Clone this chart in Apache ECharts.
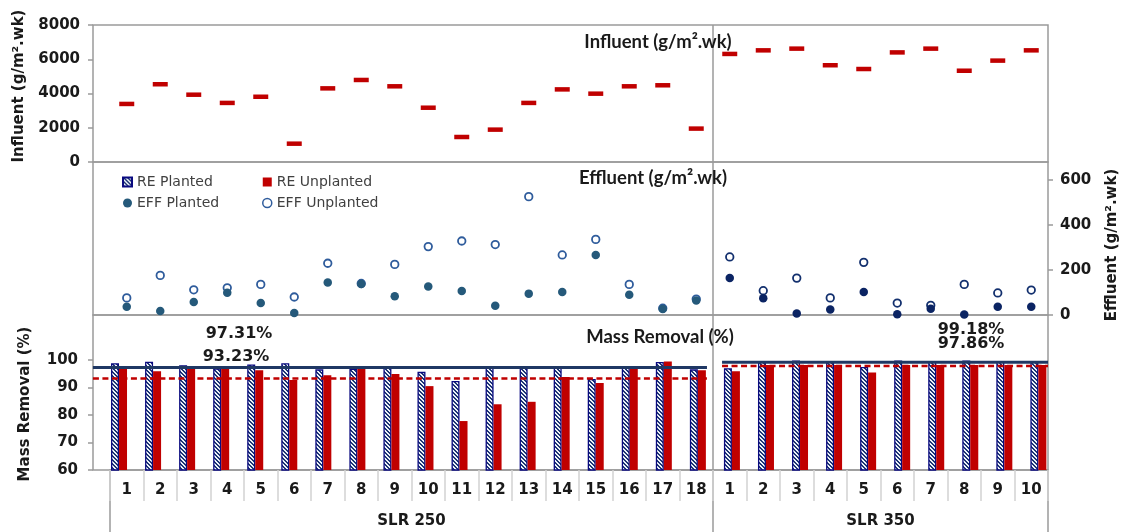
<!DOCTYPE html>
<html><head><meta charset="utf-8">
<script src="https://cdn.jsdelivr.net/npm/echarts@6/dist/echarts.min.js"></script>
<style>html,body{margin:0;padding:0;background:#fff}#c{width:1126px;height:532px}</style>
</head><body><div id="c"></div>
<script>
// ---------------- DATA ----------------
const groupNames = ['SLR 250', 'SLR 350'];
const groupSizes = [18, 10];
const weekLabels = ['1','2','3','4','5','6','7','8','9','10','11','12','13','14','15','16','17','18',
                    '1','2','3','4','5','6','7','8','9','10'];
const influent = [3390,4540,3930,3450,3810,1070,4300,4790,4420,3170,1460,1890,3450,4240,3990,4420,4480,1950,
                  6310,6520,6620,5650,5430,6400,6620,5330,5920,6520];
const effPlanted = [37,18,58,99,53,9,144,138,83,127,107,41,95,102,267,90,27,64,
                    164,74,7,24,102,3,28,2,37,37];
const effUnplanted = [76,176,112,121,136,80,230,140,225,304,329,313,526,267,336,136,30,71,
                      258,108,164,76,234,53,43,136,98,111];
const rePlanted = [98.8,99.4,98.1,96.9,98.4,98.8,96.6,96.8,97.7,95.7,92.4,97.2,97.2,97.2,93.1,97.8,99.3,96.6,
                   97.0,99.5,99.8,99.5,97.5,99.8,99.5,99.8,99.5,99.5];
const reUnplanted = [97.8,95.9,96.8,97.0,96.3,92.7,94.5,96.8,94.9,90.5,77.8,83.9,84.8,93.8,91.6,96.8,99.5,96.3,
                     95.9,98.2,98.2,98.2,95.5,98.2,98.2,98.2,98.2,98.2];
const meanPlanted = [97.31, 99.18];
const meanUnplanted = [93.23, 97.86];
const influentTicks = {min: 0, max: 8000, interval: 2000};
const effluentTicks = {min: 0, max: 600, interval: 200};
const removalTicks = {min: 60, max: 100, interval: 10};

// ---------------- LAYOUT / STYLE ----------------
const LAY = {axisX: 93, plotR: 1048, top: 25, infB: 162, effT: 180, effB: 315, barT: 360, barB: 470,
             tableB: 532, catL: 110, barL: 102, barW: 953.4};
const lineStartInset = [-0.51, 0.27];
const lineEndInset = [-0.18, 0];
const meanLabelPos = [[[239, 334], [236, 357]], [[971, 330], [971, 344]]];
const FRAME = '#9a9a9a';
const AX_FONT = 'DejaVu Sans';
const NAVY = '#1f3864', RED = '#c00000';

function hatch() {
  const c = document.createElement('canvas'); c.width = 4; c.height = 4;
  const g = c.getContext('2d');
  g.fillStyle = '#eef2f9'; g.fillRect(0, 0, 4, 4);
  g.fillStyle = '#1d3474';
  for (let i = 0; i < 4; i++) { g.fillRect(i, i, 1, 1); g.fillRect((i + 1) % 4, i, 1, 1); }
  return c;
}

const groupOf = [];
const groupStart = [];
let acc = 0;
groupSizes.forEach((n, g) => { groupStart.push(acc); for (let i = 0; i < n; i++) groupOf.push(g); acc += n; });
const N = weekLabels.length;
const catIds = weekLabels.map((w, i) => groupNames[groupOf[i]] + '|' + w);

const plotW = LAY.plotR - LAY.catL;
const bandW = plotW / N;
const axisLabelStyle = {fontFamily: AX_FONT, fontWeight: 'bold', fontSize: 15, color: '#1a1a1a', formatter: v => String(v)};

const hiddenCat = (gi) => ({type: 'category', gridIndex: gi, data: catIds, show: false});

const meanSeries = [];
groupSizes.forEach((n, g) => {
  const x0 = groupStart[g] + lineStartInset[g];
  const x1 = groupStart[g] + n + lineEndInset[g];
  meanSeries.push({type: 'line', xAxisIndex: 4, yAxisIndex: 4, clip: false, silent: true, symbol: 'none', z: 5,
    data: [[x0, meanUnplanted[g]], [x1, meanUnplanted[g]]],
    lineStyle: {color: RED, width: 2.5, type: [6, 3.5]}});
  meanSeries.push({type: 'line', xAxisIndex: 4, yAxisIndex: 4, clip: false, silent: true, symbol: 'none', z: 6,
    data: [[x0, meanPlanted[g]], [x1, meanPlanted[g]]],
    lineStyle: {color: NAVY, width: 3}});
});

const legendText = {fontFamily: AX_FONT, fontSize: 14, color: '#404040'};
const hatchImg = hatch();

const option = {
  animation: false,
  backgroundColor: '#fff',
  grid: [
    {left: LAY.catL, top: LAY.top, width: plotW, height: LAY.infB - LAY.top},
    {left: LAY.catL, top: LAY.effT, width: plotW, height: LAY.effB - LAY.effT},
    {left: LAY.barL, top: LAY.barT, width: LAY.barW, height: LAY.barB - LAY.barT},
    {left: LAY.catL, top: LAY.barT, width: plotW, height: LAY.barB - LAY.barT},
    {left: LAY.catL - bandW, top: LAY.barT, width: plotW + bandW, height: LAY.barB - LAY.barT}
  ],
  xAxis: [
    hiddenCat(0), hiddenCat(1), hiddenCat(2),
    {type: 'category', gridIndex: 3, data: catIds,
     axisLine: {show: true, lineStyle: {color: FRAME, width: 1.5}},
     axisTick: {show: true, interval: 0, length: 31, lineStyle: {color: '#d2d2d2', width: 1.5}},
     axisLabel: Object.assign({}, axisLabelStyle, {interval: 0, margin: 13, formatter: v => v.split('|')[1]})},
    {type: 'value', gridIndex: 4, min: -1, max: N, show: false}
  ],
  yAxis: [
    {type: 'value', gridIndex: 0, position: 'left', offset: LAY.catL - LAY.axisX,
     min: influentTicks.min, max: influentTicks.max, interval: influentTicks.interval,
     axisLine: {show: false}, axisTick: {show: true, length: 5, lineStyle: {color: FRAME, width: 1.5}},
     splitLine: {show: false}, axisLabel: Object.assign({margin: 13}, axisLabelStyle)},
    {type: 'value', gridIndex: 1, position: 'right',
     min: effluentTicks.min, max: effluentTicks.max, interval: effluentTicks.interval,
     axisLine: {show: false}, axisTick: {show: true, length: 5, lineStyle: {color: FRAME, width: 1.5}},
     splitLine: {show: false}, axisLabel: Object.assign({margin: 12}, axisLabelStyle)},
    {type: 'value', gridIndex: 2, position: 'left', offset: LAY.barL - LAY.axisX,
     min: removalTicks.min, max: removalTicks.max, interval: removalTicks.interval,
     axisLine: {show: false}, axisTick: {show: true, length: 5, lineStyle: {color: FRAME, width: 1.5}},
     splitLine: {show: false}, axisLabel: Object.assign({margin: 15}, axisLabelStyle)},
    {type: 'value', gridIndex: 3, show: false},
    {type: 'value', gridIndex: 4, min: removalTicks.min, max: removalTicks.max, show: false}
  ],
  legend: [
    {left: 122, top: 175, padding: 0, orient: 'vertical', itemWidth: 9, itemHeight: 9, itemGap: 7, textStyle: legendText,
     selectedMode: false,
     data: [{name: 'RE Planted', icon: 'rect'},
            {name: 'EFF Planted', icon: 'circle', itemStyle: {color: '#25597a'}}]},
    {left: 262, top: 175, padding: 0, orient: 'vertical', itemWidth: 9, itemHeight: 9, itemGap: 7, textStyle: legendText,
     selectedMode: false,
     data: [{name: 'RE Unplanted', icon: 'rect'},
            {name: 'EFF Unplanted', icon: 'circle', itemStyle: {color: '#fff', borderColor: '#2f5c9c', borderWidth: 1.5}}]}
  ],
  series: [
    {name: 'Influent', type: 'scatter', xAxisIndex: 0, yAxisIndex: 0, symbol: 'rect', symbolSize: [15, 4.5],
     itemStyle: {color: RED, opacity: 1}, data: influent},
    {name: 'EFF Unplanted', type: 'scatter', xAxisIndex: 1, yAxisIndex: 1, symbol: 'circle', symbolSize: 7.5,
     itemStyle: {color: '#fff', borderColor: '#2f5c9c', borderWidth: 1.8, opacity: 1},
     data: effUnplanted.map((v, i) => groupOf[i] === 1 ? {value: v, itemStyle: {borderColor: '#13306e'}} : v)},
    {name: 'EFF Planted', type: 'scatter', xAxisIndex: 1, yAxisIndex: 1, symbol: 'circle', symbolSize: 8.5,
     itemStyle: {color: '#25597a', opacity: 1},
     data: effPlanted.map((v, i) => groupOf[i] === 1 ? {value: v, itemStyle: {color: '#0b2463'}} : v)},
    {name: 'RE Planted', type: 'bar', xAxisIndex: 2, yAxisIndex: 2, barWidth: 8, barGap: '0%',
     itemStyle: {color: {image: hatchImg, repeat: 'repeat'}, borderColor: '#0a0a80', borderWidth: 1.3},
     data: rePlanted},
    {name: 'RE Unplanted', type: 'bar', xAxisIndex: 2, yAxisIndex: 2, barWidth: 8, barGap: '0%',
     itemStyle: {color: RED}, data: reUnplanted}
  ].concat(meanSeries)
};

const chart = echarts.init(document.getElementById('c'));
chart.setOption(option);

// --------- graphics: frames, separators, titles, text ---------
const px = (i) => chart.convertToPixel({xAxisIndex: 3}, catIds[i]);
const band = px(1) - px(0);
const gfx = [];
const line = (x1, y1, x2, y2, color, w) => gfx.push({type: 'line', z: 0, silent: true,
  shape: {x1, y1, x2, y2}, style: {stroke: color, lineWidth: w}});
const W = LAY.plotR - LAY.axisX;
[[LAY.top, LAY.infB], [LAY.infB, LAY.effB], [LAY.effB, LAY.barB]].forEach(([t, b]) =>
  gfx.push({type: 'rect', z: 0, silent: true, shape: {x: LAY.axisX, y: t, width: W, height: b - t},
            style: {fill: null, stroke: FRAME, lineWidth: 1.5}}));
groupSizes.forEach((n, g) => {
  const s = groupStart[g];
  const xl = px(s) - band / 2;
  const xr = px(s + n - 1) + band / 2;
  line(xl, g === 0 ? LAY.barB : LAY.top, xl, LAY.tableB, FRAME, 1.5);
  if (g === groupSizes.length - 1) line(xr, LAY.barB, xr, LAY.tableB, FRAME, 1.5);
  gfx.push({type: 'text', z: 10, silent: true, x: (xl + xr) / 2, y: 521,
    style: {text: groupNames[g], fill: '#1a1a1a', font: 'bold 15px "DejaVu Sans"', align: 'center', verticalAlign: 'middle'}});
  const lp = meanLabelPos[g];
  gfx.push({type: 'text', z: 10, silent: true, x: lp[0][0], y: lp[0][1],
    style: {text: meanPlanted[g].toFixed(2) + '%', fill: '#1a1a1a', font: 'bold 16px "DejaVu Sans"', align: 'center', verticalAlign: 'middle'}});
  gfx.push({type: 'text', z: 10, silent: true, x: lp[1][0], y: lp[1][1],
    style: {text: meanUnplanted[g].toFixed(2) + '%', fill: '#1a1a1a', font: 'bold 16px "DejaVu Sans"', align: 'center', verticalAlign: 'middle'}});
});
const title = (text, x, y) => gfx.push({type: 'text', z: 10, silent: true, x, y,
  style: {text, fill: '#1a1a1a', font: 'bold 18.5px Lato', align: 'center', verticalAlign: 'middle'}});
title('Influent (g/m².wk)', 658, 42);
title('Effluent (g/m².wk)', 653, 178);
title('Mass Removal (%)', 660, 337);
const vtext = (text, x, y, rot) => gfx.push({type: 'text', z: 10, silent: true, x, y, rotation: rot,
  style: {text, fill: '#1a1a1a', font: 'bold 15px "DejaVu Sans"', align: 'center', verticalAlign: 'middle'}});
vtext('Influent (g/m².wk)', 19, 86, Math.PI / 2);
vtext('Mass Removal (%)', 25, 404, Math.PI / 2);
vtext('Effluent (g/m².wk)', 1112, 245, Math.PI / 2);

chart.setOption({graphic: gfx});
</script></body></html>
